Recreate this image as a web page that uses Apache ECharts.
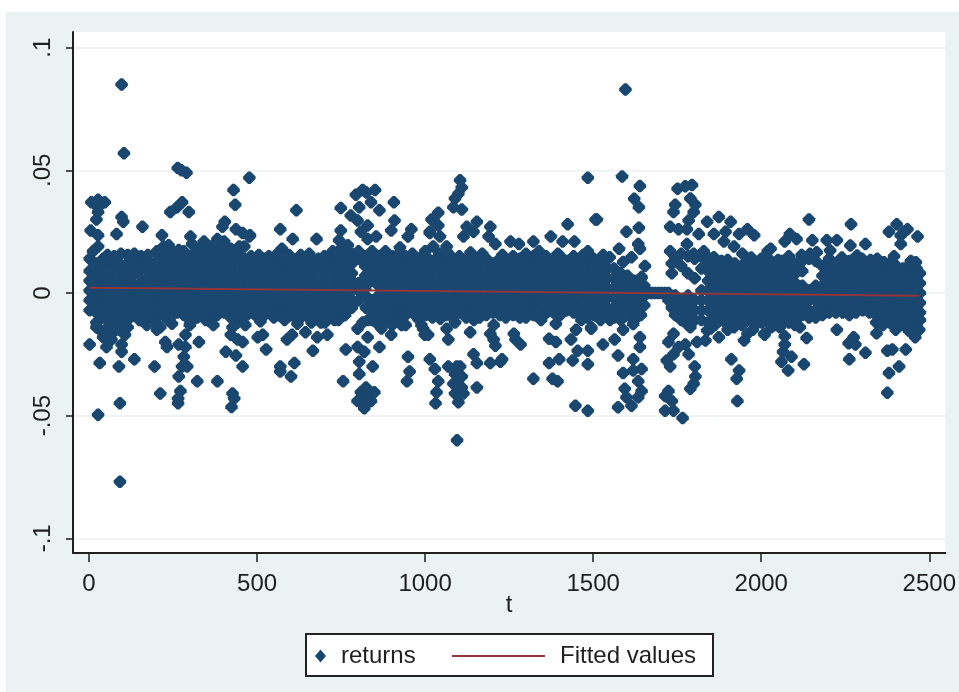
<!DOCTYPE html>
<html><head><meta charset="utf-8">
<style>html,body{margin:0;background:#fff}#chart{position:absolute;left:6px;top:12px;width:953px;height:680px;background:#eaf2f3}</style>
<script src="https://cdn.jsdelivr.net/npm/echarts@6/dist/echarts.min.js"></script>
</head><body><div id="chart"></div>
<script>
// returns in thousandths. Dense core: [t, r, r, ...]
const coreColumns = [
[2,14,9,5,1,-3,-7],[22,12,8,4,0,-4,-8,-12],[42,14,10,6,2,-2,-6,-10],[62,12,7,3,-1,-5,-9,-13],[82,13,10,5,1,-3,-7,-11],
[102,11,8,4,0,-4,-8,-12],[122,14,9,6,2,-2,-6,-10],[142,12,8,3,-1,-5,-9],[162,14,10,5,1,-3,-7,-10],[182,12,8,4,0,-4,-8],
[202,17,13,9,6,2,-2,-6,-10],[222,19,15,11,7,3,-1,-5,-9],[242,17,13,9,5,1,-3,-7,-10],[262,15,12,8,4,0,-4,-8],[282,17,13,10,6,2,-2,-6,-9],
[302,15,11,7,3,-1,-5,-9,-12],[322,17,13,9,5,1,-3,-7,-10],[342,18,14,10,6,2,-2,-6,-9],[362,16,12,8,4,0,-4,-8,-11],[382,18,14,10,6,2,-2,-6,-9],
[402,21,16,12,8,4,0,-4,-8],[422,18,14,10,6,2,-2,-6,-10],[442,16,12,7,3,-1,-5,-9,-12],[462,14,10,6,2,-2,-6,-10],[482,15,11,7,3,-1,-5,-8],
[502,13,9,5,1,-3,-7,-10],[522,14,10,6,2,-2,-6,-9],[542,13,9,5,1,-3,-7],[562,14,10,6,2,-2,-6,-9],[582,12,8,4,0,-4,-8,-11],
[602,14,10,6,2,-2,-6,-9],[622,13,9,5,1,-3,-7,-11],[642,14,10,6,2,-2,-6,-9],[662,12,8,4,0,-4,-8,-12],[682,14,10,5,1,-3,-7,-10],
[702,13,8,4,0,-4,-8,-12],[722,15,11,7,3,-1,-5,-9],[742,17,13,9,5,1,-3,-7,-11],[762,18,14,10,6,2,-2,-6,-9],[782,16,12,8,5,1,-3,-6],
[802,14,17,4,1,-3],[822,15,11,7,2,-1],[842,17,13,9,5,-3,-7,-11],[862,15,11,7,3,-1,-5,-9,-13],[882,17,13,9,5,1,-3,-7,-11],
[902,15,11,7,3,-1,-5,-9,-13],[922,16,12,8,4,0,-4,-8,-11],[942,15,11,7,3,-1,-5,-9,-13],[962,16,12,8,4,0,-4,-8],[982,14,10,6,2,-2,-6],
[1002,15,11,7,3,-1,-5,-9],[1022,13,9,5,1,-3,-7,-10],[1042,16,12,8,4,0,-4,-8],[1062,14,10,6,2,-2,-6,-9],[1082,13,9,5,1,-3,-6,-10],
[1102,15,11,7,3,-1,-5,-8],[1122,13,9,5,1,-3,-7,-10],[1142,14,10,6,2,-2,-6,-9],[1162,13,9,5,1,-3,-7,-10],[1182,14,10,6,2,-2,-6,-9],
[1202,12,8,4,0,-4,-8],[1222,14,10,6,2,-2,-6,-9],[1242,13,9,5,1,-3,-7],[1262,15,11,7,3,-1,-5,-9],[1282,14,10,6,2,-2,-6,-10],
[1302,13,9,5,1,-3,-7],[1322,15,11,7,3,-1,-5,-9],[1342,13,9,5,1,-3,-7,-9],[1362,12,8,4,0,-4,-8],[1382,14,10,6,2,-2,-6,-8],
[1402,15,11,7,3,-1,-5,-9],[1422,13,9,5,1,-3,-7],[1442,15,11,7,3,-1,-5,-8],[1462,14,10,6,2,-2,-6,-9],[1482,13,9,5,1,-3,-7,-10],
[1502,14,10,6,2,-2,-6,-9],[1522,13,9,5,1,-3,-7,-11],[1542,14,10,6,2,-2,-6,-9],[1562,10,6,2,-2,-6,-10],[1582,8,4,0,-4,-8,-11],
[1602,7,3,-1,-5,-9],[1622,5,1,-3,-7,-11],[1642,6,2,-2,-6,-9],[1652,3,-1,-5],[1664,0],[1674,0],[1684,0],[1694,0],[1704,0],[1714,0],[1724,0,-3],
[1734,12,8,-2,-6],[1744,14,-1,-5,-9],[1762,16,11,-3,-7,-11],[1782,15,8,-1,-5,-9,-13],[1802,14,6,-3,-7,-11],[1822,15,10,1,-3,-7,-11],
[1842,13,9,5,1,-3,-7,-12],[1862,11,7,3,-1,-5,-9,-13],[1882,13,9,5,1,-3,-7,-11],[1902,11,7,3,-1,-5,-9,-13],[1922,12,8,4,0,-4,-8,-12],
[1942,11,7,3,-1,-5,-9,-13],[1962,13,9,5,1,-3,-7,-11],[1982,11,7,3,-1,-5,-9,-13],[2002,12,8,4,0,-4,-8,-12],[2022,14,10,6,2,-2,-6,-10],
[2042,11,7,3,-1,-5,-9,-13],[2062,13,9,5,1,-3,-7,-11],[2082,15,11,7,3,-1,-5,-9,-12],[2102,12,8,4,0,-4,-8,-11],[2122,13,9,3,-1,-5,-9],
[2142,14,1,-3,-7,-10],[2162,13,3,0,-3,-7,-10],[2182,11,7,3,-1,-5,-9],[2202,14,10,6,2,-2,-6,-8],[2222,12,8,4,0,-4,-8],
[2242,11,7,3,-1,-5,-8],[2262,13,9,5,1,-3,-7,-9],[2282,11,7,3,-1,-5,-8],[2302,13,9,5,1,-3,-7],[2322,12,8,4,0,-4,-8],
[2342,11,7,3,-1,-5,-9,-12],[2362,10,6,2,-2,-6,-10,-13],[2382,12,8,4,0,-4,-8,-12],[2402,11,7,3,-1,-5,-9,-13],[2422,10,6,2,-2,-6,-10,-13],
[2442,11,7,3,-1,-5,-9,-12],[2462,10,6,2,-2,-6,-10,-13],[2472,8,4,0,-4,-8,-11]
];
// scattered points above the core: [t, r]
const upperPoints = [[97,85],[104,57],[264,51],[275,50],[290,49],[27,38],[7,37],[47,37],[27,35],[27,33],[22,30],[97,31],[102,29],[159,27],[82,24],[5,25.5],[27,23.5],[27,19],[12,17],
[277,37],[262,35],[242,33],[297,33],[430,42],[435,36],[477,47],[404,29],[437,26],[477,23],[457,24.5],[302,23],[217,23.5],[342,21],[382,22],[462,19],[397,27],[479,23.5],
[617,33.7],[569,26],[606,22],[677,22],[749,34.6],[794,40],[814,42],[851,42],[839,37],[864,33.7],[907,37],[909,29.6],[899,25.5],[779,31.6],[799,29.6],[829,27.5],[809,25],[749,25.5],[854,23],[829,22],[959,26],[949,23],[1019,30],[1014,25],[744,21.5],[574,18],[804,35],[825,41],
[1104,46],[1109,43],[1089,38.5],[1084,35],[1109,34],[1099,40.5],[1039,32.7],[1024,29.6],[1039,27.5],[1014,24.5],[1044,23],[1154,29],[1124,27],[1114,23],[1144,25],[1194,27],[1189,23],[1209,20],[1254,21],[1279,20],[1322,21],[1339,17],[1374,23],[1409,21],[1444,21],[1424,28],[1484,47],[1511,30],[1484,17],[1064,19],[1024,19],
[1596,83],[1586,47.5],[1639,43.6],[1622,38.4],[1636,35],[1507,30],[1599,25],[1636,26.6],[1634,20],[1639,18],[1577,18],[1614,14.6],[1589,12.6],[1654,11],[1644,6.5],[1549,14.6],
[1729,17],[1779,20],[1751,42.5],[1794,44],[1774,43.5],[1744,36],[1804,36],[1789,38.5],[1739,33],[1799,33],[1784,29.6],[1729,27],[1754,26],[1779,26],[1814,24],[1839,29],[1874,31],[1859,24],[1909,29],[1894,25],[1959,26],[1979,23.5],[1934,24],[1889,21],[1919,19],[1944,16],[1829,17],[1799,16],[1859,14.6],[2019,17],
[2142,30],[2267,28],[2085,24],[2070,21],[2105,22],[2028,18],[2152,21.5],[2195,21.5],[2225,21.5],[2265,19.4],[2310,20],[2205,17.3],[2285,15.3],[2345,14],[2395,15],[2380,25],[2403,28],[2435,26],[2465,23],[2415,20],[2415,23.4],[2425,25],[2145,16],[2165,16.6]];
// points on the upper edge of the dense band: [t, r]
const upperEdgePoints = [[55,15.5],[75,15],[95,16],[115,15.5],[135,16],[155,15],[175,15.5],[237,19.5],[267,17.5],[307,20],[327,18.5],[362,19],[447,19],[505,15.5],[535,15],[560,16],[595,15.5],[630,15.5],[655,16],[700,15],[725,17],[770,19.5],[925,18.5],[1000,17],[1070,16],[1135,16.5],[1170,16],[1230,15.5],[1300,16],[1360,15],[1395,16],[1470,15.5],[1530,15.5],[1850,14],[1900,13.5],[1970,14.5],[2000,14],[2050,13.5],[2120,15.5],[2240,14.5],[2300,14],[2325,13.5],[2365,12.5],[2445,13],[2460,12.5]];
// scattered points below the core: [t, r]
const lowerPoints = [[92,-77],[2,-21],[32,-28.5],[89,-30],[135,-27],[195,-30],[212,-41],[92,-45],[27,-49.6],[272,-40],[265,-45],[265,-43],[322,-36],[382,-36],[427,-41],[432,-43],[424,-46.5],[267,-34],[277,-30],[292,-30],[282,-26],[287,-22],[327,-20],[267,-21],[232,-22],[227,-20],[212,-14],[202,-15],[172,-13],[52,-22],[97,-24],[97,-21],[107,-17],[32,-15],[22,-14],[67,-19],[457,-30],[407,-24],[437,-25.5],[442,-19],[457,-20],[422,-17],[427,-14],[502,-18],[347,-11],[287,-17],[247,-12.5],[72,-16],[42,-18],
[517,-17],[527,-23],[569,-30],[569,-32],[611,-28.5],[601,-34],[666,-23.5],[589,-19],[604,-17],[644,-16],[679,-18],[709,-17],[756,-36],[764,-23],[799,-22],[819,-24],[804,-28],[844,-30],[804,-33],[824,-38.5],[849,-40.5],[799,-44],[819,-47],[824,-42.5],[809,-40.5],[839,-44],[949,-26],[954,-32],[946,-36],[799,-14.6],[829,-18],[864,-22],[899,-17],[1014,-27],[824,-6],[994,-14.6],[1009,-17],[979,-10.5],[814,-12],[830,-11],
[1029,-31],[1039,-36],[1034,-40.5],[1031,-45],[1069,-30],[1089,-33],[1109,-34],[1084,-37],[1109,-38.5],[1089,-41],[1114,-41],[1099,-44.5],[1094,-30],[1095,-60],[1154,-38.5],[1144,-25],[1154,-28.5],[1194,-28.5],[1229,-27],[1209,-21.5],[1224,-28],[1204,-19],[1264,-16.6],[1284,-21],[1269,-19],[1369,-18.7],[1389,-20],[1369,-28.5],[1399,-27],[1322,-35],[1379,-35],[1394,-36],[1447,-46],[1484,-48],[1439,-27.5],[1454,-23.5],[1484,-23.5],[1484,-29],[1449,-15],[1434,-19],[1494,-14],[1389,-12.5],[1069,-19],[1064,-14.6],[1089,-12],[1134,-16],[999,-17],[989,-13],[1194,-16.6],[1204,-13],[1099,-34],[1099,-39],[1104,-30],
[1494,-14.6],[1529,-21],[1574,-25.5],[1564,-19],[1639,-18],[1619,-12.6],[1619,-27],[1639,-22],[1644,-31],[1589,-32.6],[1619,-31.6],[1634,-36],[1644,-40],[1594,-39],[1599,-42.5],[1574,-46.6],[1614,-46],[1634,-42.5],[1724,-40],[1714,-42],[1734,-44],[1714,-48],[1739,-48],[1766,-51],[1729,-30],[1719,-27.5],[1739,-25],[1724,-20],[1754,-22],[1739,-16.6],[1784,-25],[1774,-21],[1809,-20],[1834,-19.4],[1789,-14],[1802,-30],[1804,-34],[1789,-39],[1799,-37],[1874,-18],[1911,-27],[1934,-31.6],[1927,-35],[1929,-44],[1949,-19.4],[1959,-16.6],[2009,-16.6],[1919,-14],[1839,-15.3],[1589,-15],
[2135,-18.4],[2070,-17.6],[2070,-21],[2065,-24],[2060,-28],[2090,-26],[2080,-31.6],[2127,-29],[2010,-17],[2260,-20.5],[2275,-18],[2280,-21],[2262,-27],[2310,-24.4],[2225,-15],[2343,-16.4],[2375,-23.5],[2390,-23],[2430,-23],[2410,-30],[2380,-32.6],[2375,-40.7],[2458,-18],[2055,-14],[2115,-14]];
// points on the lower edge of the dense band: [t, r]
const lowerEdgePoints = [[50,-15],[70,-14],[90,-15],[115,-14],[150,-11],[190,-11],[235,-11],[300,-13],[370,-13],[465,-13],[510,-11.5],[550,-10],[620,-12.5],[690,-12],[730,-11],[870,-14.5],[930,-13],[1045,-10.5],[1145,-11],[1240,-10],[1300,-10],[1345,-11],[1465,-11],[1550,-11],[1850,-14.5],[1900,-15],[1975,-15],[2030,-14],[2100,-13],[2400,-15],[2440,-15.5],[2470,-15]];
// fitted line end points: [t, fitted]
const fittedLine = [[2,0.0021],[2470,-0.0011]];
const xTickValues = [0,500,1000,1500,2000,2500];
const yTickValues = [-0.1,-0.05,0,0.05,0.1];
const yTickLabels = {'-0.1':'-.1','-0.05':'-.05','0':'0','0.05':'.05','0.1':'.1'};

const returnsData = [];
coreColumns.forEach(c => c.slice(1).forEach(r => returnsData.push([c[0], r/1000])));
upperPoints.concat(upperEdgePoints, lowerPoints, lowerEdgePoints).forEach(p => returnsData.push([p[0], p[1]/1000]));

const font = 'Liberation Sans';
const ink = '#1f1f1f';
const markerShape = 'path://M4 0L6 0L10 4L10 6L6 10L4 10L0 6L0 4Z';
const chart = echarts.init(document.getElementById('chart'), null, {renderer:'canvas'});
chart.setOption({
  animation:false,
  grid:{left:67,top:20,width:877,height:521,show:true,backgroundColor:'#fff',borderWidth:0,containLabel:false},
  xAxis:{type:'value',min:-47.6,max:2547.6,name:'t',nameLocation:'middle',nameGap:40,nameMoveOverlap:false,
    nameTextStyle:{fontFamily:font,fontSize:24,color:ink},
    axisLine:{show:true,onZero:false,lineStyle:{color:ink,width:2}},
    axisTick:{show:true,length:9,inside:false,customValues:xTickValues,lineStyle:{color:ink,width:1.5}},
    axisLabel:{customValues:xTickValues,showMinLabel:true,showMaxLabel:true,fontFamily:font,fontSize:24,color:ink,margin:19,hideOverlap:false,formatter:v=>String(v)},
    splitLine:{show:false}},
  yAxis:{type:'value',min:-0.106,max:0.1064,
    axisLine:{show:true,onZero:false,lineStyle:{color:ink,width:2}},
    axisTick:{show:true,length:7,customValues:yTickValues,lineStyle:{color:ink,width:1.5}},
    axisLabel:{customValues:yTickValues,rotate:90,fontFamily:font,fontSize:24,color:ink,margin:18,hideOverlap:false,
      formatter:v=>yTickLabels[String(+v.toFixed(2))]},
    splitLine:{show:true,lineStyle:{color:'#eaf2f3',width:1.5}}},
  legend:[
    {data:[{name:'returns',icon:'diamond'}],left:309,top:632,itemWidth:11,itemHeight:13,itemGap:0,padding:0,
      textStyle:{fontFamily:font,fontSize:24,color:ink,padding:[0,0,0,10]},selectedMode:false,z:10},
    {data:[{name:'Fitted values',icon:'rect'}],left:446,top:632,itemWidth:93,itemHeight:2,itemGap:0,padding:0,
      textStyle:{fontFamily:font,fontSize:24,color:ink,padding:[0,0,0,10]},selectedMode:false,z:10}
  ],
  graphic:[{type:'rect',left:299,top:621,z:1,shape:{width:407,height:42},style:{fill:'#fff',stroke:'#222',lineWidth:2}}],
  series:[
    {name:'returns',type:'scatter',symbol:markerShape,symbolSize:12.5,data:returnsData,itemStyle:{color:'#1a476f',opacity:1},large:false,z:2},
    {name:'Fitted values',type:'line',data:fittedLine,showSymbol:false,symbol:'none',lineStyle:{color:'#90353b',width:2},itemStyle:{color:'#90353b'},z:3}
  ]
});
</script></body></html>
